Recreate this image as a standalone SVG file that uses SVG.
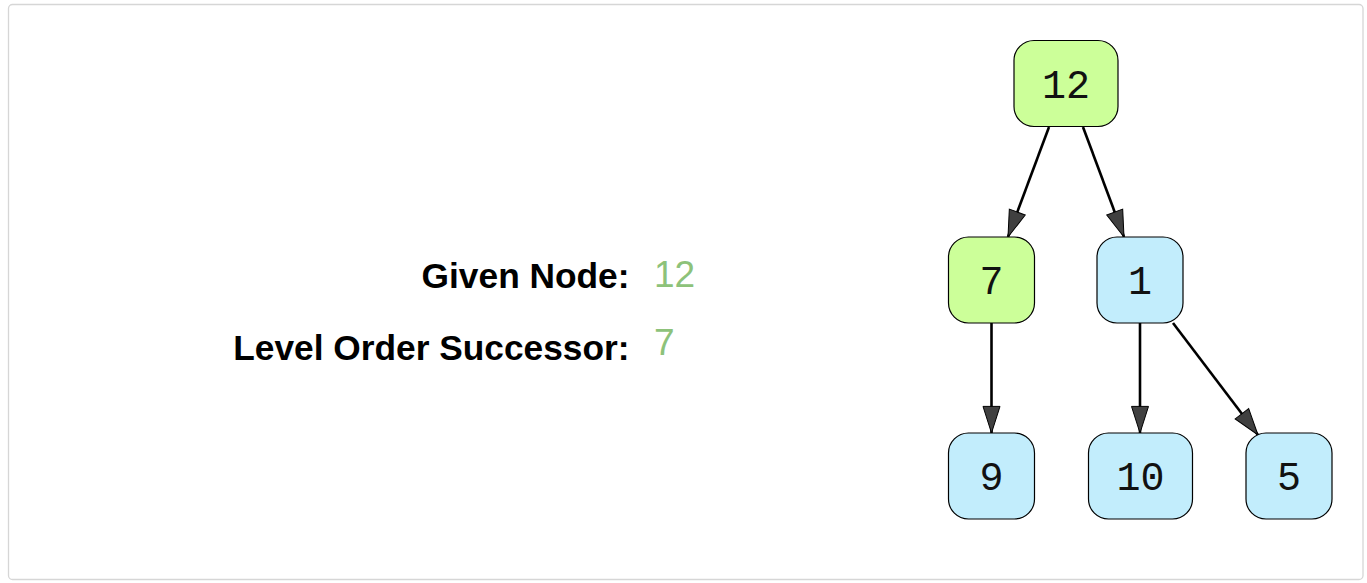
<svg xmlns="http://www.w3.org/2000/svg" width="1367" height="583" viewBox="0 0 1367 583">
<style>
.frame{fill:#fff;stroke:#d6d6d6;stroke-width:1.3}
.node rect{stroke:#000;stroke-width:1.2}
.g rect{fill:#ccff99}
.b rect{fill:#c2edfc}
.node text{font-family:"Liberation Mono","Courier New",monospace;font-size:40px;fill:#111;text-anchor:middle}
.lbl{font-family:"Liberation Sans",Arial,sans-serif;font-weight:bold;font-size:35.3px;fill:#000;text-anchor:end}
.val{font-family:"Liberation Sans",Arial,sans-serif;font-size:37px;fill:#8dc27a}
.edge{stroke:#000;stroke-width:2.6;fill:none;marker-end:url(#ah)}
</style>
<defs>
<marker id="ah" markerWidth="10" markerHeight="10" viewBox="0 0 10 10" refX="9.6" refY="5" orient="auto" markerUnits="userSpaceOnUse" style="overflow:visible">
<path d="M-17,-3.5 L9.6,5 L-17,13.5 Z" fill="#404040" stroke="#000" stroke-width="1"/>
</marker>
</defs>
<rect class="frame" x="8.5" y="4.5" width="1354.5" height="575" rx="4"/>
<g id="info">
<text class="lbl" x="629.5" y="288">Given Node:</text>
<text class="val" x="654" y="287">12</text>
<text class="lbl" x="629.5" y="360">Level Order Successor:</text>
<text class="val" x="654" y="355">7</text>
</g>
<g id="connectors">
<line class="edge" x1="1049" y1="127" x2="1008" y2="237"/>
<line class="edge" x1="1083" y1="127" x2="1124" y2="237"/>
<line class="edge" x1="991.5" y1="323" x2="991.5" y2="433"/>
<line class="edge" x1="1140" y1="323" x2="1140" y2="433"/>
<line class="edge" x1="1173" y1="323" x2="1258" y2="435"/>
</g>
<g id="n12" class="node g"><rect x="1014" y="40.5" width="104" height="86" rx="20"/><text x="1066" y="98">12</text></g>
<g id="n7" class="node g"><rect x="948.5" y="237" width="86" height="86" rx="20"/><text x="991.5" y="294">7</text></g>
<g id="n1" class="node b"><rect x="1097" y="237" width="86" height="86" rx="20"/><text x="1140" y="294">1</text></g>
<g id="n9" class="node b"><rect x="948.5" y="433" width="86" height="86" rx="20"/><text x="991.5" y="490">9</text></g>
<g id="n10" class="node b"><rect x="1088.5" y="433" width="104" height="86" rx="20"/><text x="1140.5" y="490">10</text></g>
<g id="n5" class="node b"><rect x="1246" y="433" width="86" height="86" rx="20"/><text x="1289" y="490">5</text></g>
</svg>
